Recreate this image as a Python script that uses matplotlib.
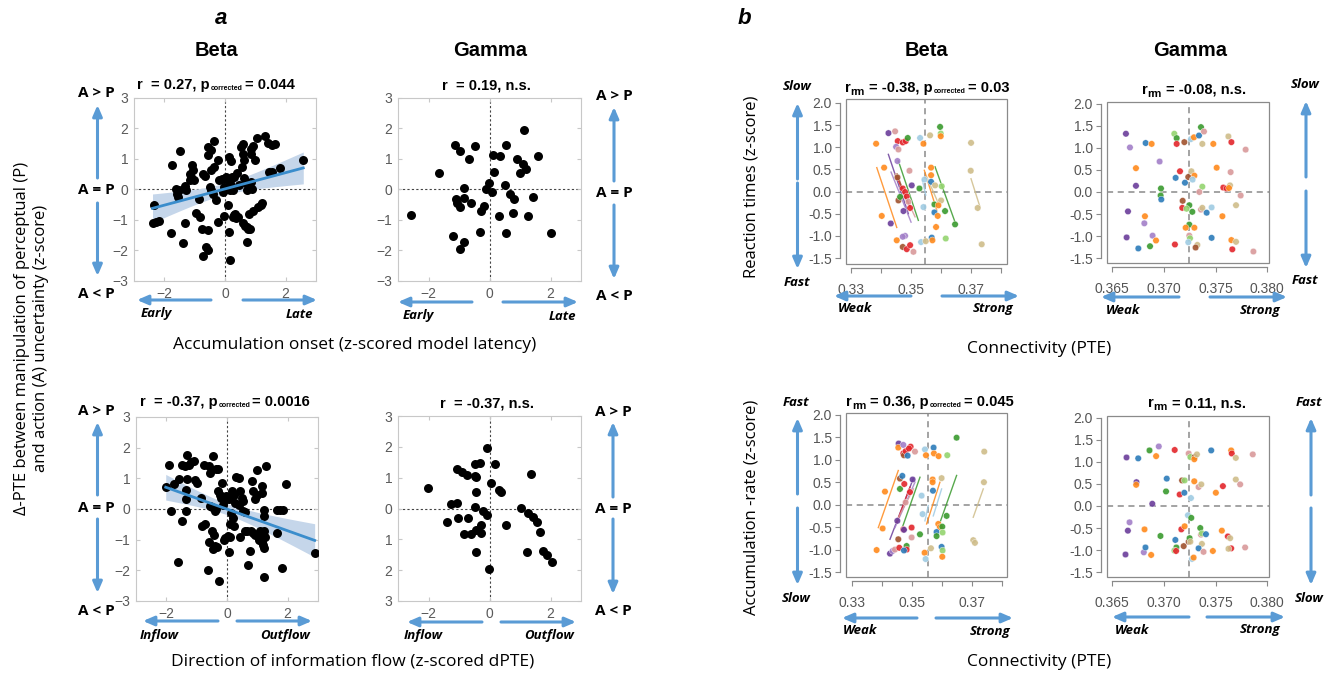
import numpy as np
import matplotlib
matplotlib.use('Agg')
import matplotlib.pyplot as plt
from matplotlib.patches import Rectangle, FancyArrowPatch

# ---- panel a : single subject-level points ----
onset_beta_x = [-2.34, -2.39, -2.26, -2.19, -1.75, -1.77, -1.61, -1.58, -1.52, -1.55, -1.48, -1.32, -1.28,
                -1.31, -1.38, -1.09, -1.06, -1.14, -1.11, -1.17, -1.03, -0.97, -0.84, -0.86, -0.75, -0.73,
                -0.62, -0.55, -0.73, -0.66, -0.55, -0.46, -0.55, -0.37, -0.51, -0.46, -0.55, -0.46, -0.35,
                -0.24, -0.38, -0.30, -0.24, -0.21, -0.11, -0.04, -0.08, -0.04, 0.03, 0.09, 0.14, 0.20, 0.23,
                0.17, 0.20, 0.16, 0.09, 0.09, 0.14, 0.16, 0.25, 0.31, 0.36, 0.34, 0.44, 0.25, 0.31, 0.38,
                0.47, 0.52, 0.60, 0.58, 0.61, 0.56, 0.63, 0.69, 0.74, 0.58, 0.67, 0.74, 0.77, 0.82, 0.71,
                0.85, 0.91, 1.00, 0.85, 0.85, 0.89, 0.80, 0.91, 1.10, 1.18, 1.21, 1.04, 1.32, 1.43, 1.56,
                1.65, 1.45, 1.54, 1.81, 2.58]
onset_beta_y = [-0.51, -1.09, -1.06, -1.04, 0.81, -1.42, 0.00, -0.15, -0.02, -0.24, 1.27, 0.11, -0.02,
                -1.11, -1.77, 0.80, 0.63, 0.52, 0.42, 0.31, 0.31, -0.77, -0.90, -0.30, -1.31, -2.19,
                -1.88, -1.99, 0.52, 0.44, 1.40, 1.29, 1.13, 1.58, 0.07, -0.02, -1.33, 0.63, 0.74,
                0.96, -0.15, -0.35, -1.06, 0.31, 0.36, 0.09, -0.08, -0.86, 0.42, 0.31, 1.05, 0.93, 0.42,
                0.20, 0.09, -0.02, 0.03, -0.51, -1.39, -2.32, -0.90, -0.84, -0.95, -0.81, -0.90, -0.02, 0.42, 0.55,
                0.16, 1.38, 1.49, 1.18, 0.98, 0.74, 0.38, 0.20, -0.02, -1.11, -1.20, -1.22, -1.31, -1.28, -1.72,
                1.34, 1.42, 0.98, 1.18, 0.25, 0.01, -0.79, -0.70, -0.57, -0.51, -0.44, 1.70, 1.75, 1.53, 1.45,
                1.48, 0.58, 0.58, 0.72, 0.98]

onset_gamma_x = [-2.58, -1.65, -1.12, -0.97, -0.66, -0.47, -0.82, -1.10, -1.08, -0.97, -0.82, -0.62, -1.21,
                 -0.82, -0.96, -0.31, -0.27, -0.18, -0.11, -0.01, 0.08, 0.15, 0.13, 0.35, 0.32, 0.54, 0.52,
                 0.54, 0.68, 0.79, 0.76, 0.91, 0.99, 1.09, 1.21, 1.14, 1.25, 1.43, 1.59, 2.02]
onset_gamma_y = [-0.84, 0.55, 1.45, 1.27, 1.01, 1.41, 0.05, -0.31, -0.45, -0.56, -0.28, -0.44, -1.51,
                 -1.73, -1.95, -1.40, -0.72, -0.53, 0.02, 0.21, -0.08, 0.59, 1.12, 1.09, -0.86, 1.45, 0.16,
                 -1.44, -0.14, -0.31, -0.78, 1.01, 0.54, 0.85, 0.66, 1.94, -0.86, -0.23, 1.11, -1.43]

flow_beta_x = [-2.02, -1.91, -1.74, -1.83, -1.58, -1.60, -1.50, -1.40, -1.33, -1.25, -1.18, -1.09, -1.33,
               -1.36, -1.34, -1.36, -1.47, -1.04, -0.98, -0.87, -0.76, -0.60, -0.46, -0.55, -0.35, -0.29,
               -0.82, -0.74, -0.60, -0.62, -0.57, -0.49, -0.41, -0.35, -0.49, -0.44, -0.38, -0.46, -0.33,
               -0.26, -0.29, -0.22, -0.19, -0.11, -0.16, -0.14, -0.11, -0.05, 0.03, 0.05, 0.11, -0.03, 0.05,
               0.16, 0.22, 0.27, 0.13, 0.20, 0.11, 0.22, 0.29, 0.38, 0.44, 0.49, 0.52, 0.41, 0.52, 0.60,
               0.44, 0.58, 0.65, 0.79, 0.85, 0.93, 1.04, 1.07, 1.15, 1.20, 1.23, 1.25, 1.22, 1.09, 0.69,
               0.76, 0.82, 0.85, 0.93, 0.98, 1.00, 1.15, 1.15, 1.22, 1.22, 1.28, 1.22, 1.64, 1.64, 1.74,
               1.83, 1.82, 1.96, 2.89]
flow_beta_y = [0.72, 1.43, 0.83, -0.05, 0.99, -1.74, 1.45, 1.40, 1.75, 1.43, 1.54, 1.58, 0.99,
               0.63, 0.33, -0.08, -0.40, 0.96, 0.85, 0.36, 1.45, 1.40, 1.73, 1.18, 1.32, 1.29,
               -0.57, -0.49, -1.06, -1.99, 0.09, 0.05, -0.08, 0.01, -0.73, -0.84, -1.22, -1.30, -1.25,
               -2.35, 0.60, 0.47, 0.36, 0.25, 0.85, 0.12, -1.01, -0.95, -0.87, -1.39, -0.90, 0.42, 0.31,
               0.58, 0.47, 0.20, -0.13, -0.30, -0.49, -0.57, 1.04, 1.02, 0.58, 0.36, 0.25, 0.14, -0.08, -0.10,
               -0.90, -0.73, -0.73, -0.73, -0.79, -0.84, -1.01, -0.90, -1.06, -1.17, -1.26, -0.90, -0.73, -0.73, -1.83,
               -1.36, 0.91, 0.58, 0.31, 0.47, 1.26, 0.74, 0.52, -0.02, -0.24, 1.41, -2.21, -0.79, -0.02, -0.02,
               -0.02, -1.93, 0.82, -1.44]

flow_gamma_x = [-2.03, -1.40, -1.27, -1.07, -1.07, -0.91, -0.74, -1.02, -0.72, -0.83, -0.61, -0.49, -0.31,
                -0.44, -0.49, -0.44, -0.49, -0.44, -0.27, -0.27, -0.45, -0.22, -0.07, -0.09, 0.05, 0.19,
                0.31, 0.37, -0.03, 0.55, 1.03, 1.26, 1.42, 1.55, 1.64, 1.37, 1.22, 1.77, 1.88, 2.04]
flow_gamma_y = [0.67, -0.43, 0.16, 0.19, 1.28, 1.17, 1.08, -0.30, -0.32, -0.84, -0.84, 1.43, 1.46,
                1.03, 1.05, 0.54, 0.05, -0.70, -0.81, -0.54, -1.41, -0.09, -0.22, 1.95, 0.84, 1.44,
                0.59, 0.54, -1.95, -0.54, 0.02, -0.14, -0.27, -0.43, -0.76, 1.11, -1.41, -1.37, -1.51, -1.73]
flow_gamma_yticklabels = ['3', '2', '1', '0', '1', '2', '3']

# ---- panel b : repeated-measures points, colour code per subject ----
PALETTE = {'P': '#6a3d9a', 'L': '#a27fc8', 'O': '#ff8a1c', 'R': '#e3262b', 'K': '#d9999a',
           'G': '#3a9a2e', 'g': '#94d46f', 'B': '#2b7bb9', 'b': '#9fcbe3', 'N': '#a0522d',
           'T': '#cfbd8a'}

rt_beta_c = 'OOOOPKRRRGLKLKPNRRGNGRKRbPPLLNRRKbbOTGgObOOBTgTGOBOGGOTBOgTTTT'
rt_beta_x = [0.33844, 0.34111, 0.34033, 0.34533, 0.34256, 0.34478, 0.34567, 0.34733, 0.34833, 0.34900,
             0.34511, 0.34589, 0.34556, 0.34956, 0.35033, 0.34556, 0.34733, 0.34811, 0.35289, 0.34589,
             0.34644, 0.34867, 0.34922, 0.34978, 0.35422, 0.34756, 0.34333, 0.34811, 0.34733, 0.34733,
             0.34867, 0.34978, 0.35089, 0.35344, 0.35311, 0.35422, 0.35644, 0.35978, 0.36000, 0.36000,
             0.35456, 0.35678, 0.35678, 0.35678, 0.35811, 0.36033, 0.36011, 0.35789, 0.35922, 0.35789,
             0.35900, 0.36144, 0.36478, 0.35844, 0.35500, 0.35700, 0.35722, 0.36167, 0.37011, 0.37000,
             0.37233, 0.37367]
rt_beta_y = [1.08, 0.54, -0.55, -1.10, 1.32, 1.36, 1.14, 1.11, 1.14, 1.21,
             1.01, 0.95, 0.69, 0.47, 0.14, 0.32, 0.07, -0.01, 0.07, -0.20,
             -0.12, -0.11, -0.23, -0.37, -0.35, -0.44, -0.72, -1.00, -1.02, -1.25,
             -1.30, -1.21, -1.36, -1.14, 1.21, 1.08, 1.27, 1.46, 1.31, 1.25,
             0.27, 0.54, 0.37, 0.22, 0.14, 0.12, -0.20, -0.29, -0.31, -0.47,
             -0.55, -0.44, -0.74, -0.80, -1.12, -1.04, -1.10, -1.06, 1.10, 0.47,
             -0.37, -1.19]
# repeated-measures fit lines (per subject)
rt_line_c = 'OPLGKRNbOTGT'
rt_line_x0 = [0.33867, 0.34253, 0.34343, 0.34587, 0.34477, 0.34533, 0.34543, 0.35387, 0.35453, 0.35533, 0.35810, 0.37010]
rt_line_x1 = [0.34533, 0.34920, 0.35010, 0.35253, 0.35143, 0.34977, 0.34877, 0.35500, 0.35867, 0.35977, 0.36477, 0.37310]
rt_line_y0 = [0.54, 0.84, 0.44, 0.69, 0.40, 0.33, 0.40, 0.26, 0.48, 0.33, 0.56, 0.29]
rt_line_y1 = [-0.81, -0.50, -0.69, -0.65, -0.57, -0.35, -0.23, -0.08, -0.42, -0.35, -0.69, -0.35]

rt_gamma_c = 'PBOLLOPGGBPOLPLOBGgGRNbOBGKTOTRKRBBNTObgKOKRRTOKNRGgGKTBbTOGOOBKgbTNROTRK'
rt_gamma_x = [0.36632, 0.36823, 0.36881, 0.36671, 0.36958, 0.36729, 0.36729, 0.36971, 0.36968, 0.36974,
              0.36652, 0.36816, 0.36810, 0.36639, 0.36890, 0.36923, 0.36752, 0.36865, 0.37100, 0.37123,
              0.37123, 0.37197, 0.37261, 0.37290, 0.37339, 0.37358, 0.37387, 0.37371, 0.37477, 0.37623,
              0.37652, 0.37790, 0.37155, 0.37113, 0.37203, 0.37235, 0.37265, 0.37294, 0.37277, 0.37371,
              0.37342, 0.37510, 0.37645, 0.37574, 0.37606, 0.37639, 0.37629, 0.37742, 0.37181, 0.37177,
              0.37245, 0.37219, 0.37274, 0.37358, 0.37371, 0.37413, 0.37461, 0.37697, 0.37565, 0.37245,
              0.37210, 0.37294, 0.37461, 0.37245, 0.37252, 0.37235, 0.37323, 0.37306, 0.37106, 0.37652,
              0.37697, 0.37661, 0.37865]
rt_gamma_y = [1.32, 1.11, 1.09, 1.01, 0.69, 0.54, 0.14, 0.08, -0.08, -0.17,
              -0.44, -0.55, -0.71, -1.03, -0.99, -1.10, -1.28, -1.23, 1.32, 1.22,
              1.09, 1.13, 1.20, 1.24, 1.28, 1.47, 1.37, 1.09, 1.09, 1.26,
              1.13, 0.96, 0.47, 0.32, 0.21, 0.34, 0.47, 0.37, 0.28, 0.12,
              0.00, 0.55, 0.45, 0.10, 0.08, 0.15, 0.09, -0.08, -0.20, -0.36,
              -0.30, -0.38, -0.45, -0.40, -0.36, -0.47, -0.35, -0.30, -0.55, -0.74,
              -0.81, -0.81, -1.04, -0.99, -1.05, -1.14, -1.20, -1.26, -1.19, -1.09,
              -1.13, -1.30, -1.35]

acc_beta_c = 'OOOPLKPORNRRRKBPNBGRRKPRPKRGNGRRBbbbOObTBOOgGOOBTGOOGBGgBgOTTTTL'
acc_beta_x = [0.33822, 0.34100, 0.34022, 0.34267, 0.34356, 0.34433, 0.34556, 0.34544, 0.34711, 0.34733,
              0.34789, 0.34956, 0.34900, 0.35100, 0.34856, 0.35022, 0.34600, 0.34678, 0.34600, 0.34744,
              0.34933, 0.34789, 0.34511, 0.34711, 0.34733, 0.34989, 0.34989, 0.35267, 0.34544, 0.34822,
              0.34578, 0.34822, 0.34733, 0.35322, 0.35356, 0.35433, 0.35467, 0.35422, 0.35456, 0.35633,
              0.35722, 0.35733, 0.35889, 0.36178, 0.36489, 0.35689, 0.35689, 0.35700, 0.35989, 0.36156,
              0.35878, 0.35933, 0.36011, 0.35822, 0.35822, 0.36022, 0.35989, 0.36022, 0.36011, 0.37400,
              0.37411, 0.37044, 0.37100, 0.34711]
acc_beta_y = [-1.01, 0.29, -0.53, -1.09, -1.03, -1.00, 1.36, 1.27, 1.14, 1.10,
              1.19, 1.29, 1.25, 1.18, 1.09, 0.56, 0.58, 0.64, 0.35, 0.46,
              0.28, 0.05, -0.36, -0.55, -0.56, -0.73, -0.51, -0.66, -0.77, -0.92,
              -0.96, -1.00, -1.02, 0.20, -0.21, 1.23, 1.10, -1.07, -1.21, -0.97,
              1.27, 1.14, 1.08, 1.10, 1.49, 0.56, 0.50, 0.31, 0.59, -0.25,
              -0.43, -0.50, -0.49, -0.61, -0.70, -0.62, -0.94, -1.02, -1.16, 0.50,
              1.18, -0.79, -0.85, 1.33]
acc_line_c = 'OPLGRKbObGT'
acc_line_x0 = [0.33878, 0.34267, 0.34433, 0.34656, 0.34489, 0.34500, 0.35433, 0.35489, 0.35711, 0.35933, 0.37044]
acc_line_x1 = [0.34544, 0.35044, 0.35100, 0.35267, 0.34933, 0.35050, 0.35544, 0.35933, 0.35989, 0.36489, 0.37378]
acc_line_y0 = [-0.51, -0.77, -0.51, -0.55, -0.40, -0.35, -0.36, -0.43, -0.25, -0.40, -0.28]
acc_line_y1 = [0.76, 0.58, 0.50, 0.61, 0.39, 0.35, -0.02, 0.50, 0.35, 0.65, 0.35]

acc_gamma_c = 'PBGLORKgNOTBORTKPOBGPRBNgbOKTORTKLPOGbGROBGgRNNGTPLBObOKGgBTBKOORTRTK'
acc_gamma_x = [0.36638, 0.36751, 0.36860, 0.36950, 0.36924, 0.37104, 0.37239, 0.37255, 0.37297, 0.37293,
               0.37319, 0.37457, 0.37650, 0.37656, 0.37695, 0.37859, 0.36734, 0.36731, 0.37027, 0.37020,
               0.36887, 0.37152, 0.37197, 0.37175, 0.37200, 0.37261, 0.37293, 0.37335, 0.37361, 0.37502,
               0.37570, 0.37695, 0.37737, 0.36667, 0.36651, 0.36812, 0.36966, 0.37232, 0.37264, 0.37168,
               0.37200, 0.37110, 0.37120, 0.37101, 0.37117, 0.37191, 0.37239, 0.37248, 0.37255, 0.36628,
               0.36805, 0.36821, 0.36876, 0.37271, 0.37287, 0.37358, 0.37351, 0.37367, 0.37406, 0.37367,
               0.37335, 0.37383, 0.37473, 0.37560, 0.37618, 0.37640, 0.37650, 0.37624, 0.37785]
acc_gamma_y = [1.10, 1.08, 1.26, 1.35, 1.13, 1.27, 1.19, 1.11, 1.11, 1.06,
               1.17, 1.26, 1.26, 1.19, 1.09, 1.17, 0.54, 0.48, 0.62, 0.33,
               0.05, 0.26, 0.30, 0.58, 0.58, 0.18, 0.56, 0.43, 0.49, 0.30,
               0.45, 0.60, 0.49, -0.37, -0.56, -0.53, -0.68, -0.21, -0.27, -0.53,
               -0.46, -0.77, -0.94, -1.01, -1.02, -0.91, -0.81, -0.73, -0.81, -1.10,
               -1.05, -0.94, -1.11, -1.20, -1.17, -0.65, -0.50, -0.62, -0.64, -0.86,
               -0.96, -1.04, -1.02, -0.56, -0.69, -0.73, -0.96, -0.97, -0.94]

beta_xticks = [0.33, 0.34, 0.35, 0.36, 0.37, 0.38]
beta_xticklabels = ['0.33', '', '0.35', '', '0.37', '']
gamma_xticks = [0.365, 0.370, 0.375, 0.380]
b_yticks = [-1.5, -1.0, -0.5, 0.0, 0.5, 1.0, 1.5, 2.0]

# ---------------------------------------------------------------
W, H = 1326, 677
BLUE = '#5a9bd5'
HEAD = 'Open Sans'
ARIAL = 'Liberation Sans'
fig = plt.figure(figsize=(W / 100, H / 100), dpi=100)


def fx(px):
    return px / W


def fy(py):
    return 1 - py / H


def rect(l, t, r, b):
    return [fx(l), fy(b), (r - l) / W, (b - t) / H]


def ftext(px, py, s, size=12, weight='normal', style='normal', family=HEAD, **kw):
    kw.setdefault('ha', 'center')
    kw.setdefault('va', 'center')
    return fig.text(fx(px), fy(py), s, fontsize=size, fontweight=weight,
                    fontstyle=style, family=family, **kw)


def arrow(x0, y0, x1, y1):
    fig.add_artist(FancyArrowPatch((fx(x0), fy(y0)), (fx(x1), fy(y1)),
                                   transform=fig.transFigure, color=BLUE, lw=2.2,
                                   arrowstyle='-|>,head_length=0.65,head_width=0.28',
                                   mutation_scale=10, shrinkA=0, shrinkB=0))


def rich_title(cx, base, parts):
    # parts: (text, fontsize, baseline shift px, gap after px)
    r = fig.canvas.get_renderer()
    arts = []
    for s, fs, dy, gap in parts:
        t = fig.text(0, 0, s, fontsize=fs, fontweight='bold', family=ARIAL,
                     ha='left', va='baseline')
        arts.append((t, dy, gap, t.get_window_extent(r).width))
    total = sum(w + g for _, _, g, w in arts)
    x = cx - total / 2
    for t, dy, gap, w in arts:
        t.set_position((fx(x), fy(base + dy)))
        x += w + gap


def a_panel(box, x, y, fit=False, ylabels=None):
    ax = fig.add_axes(rect(*box))
    ax.axhline(0, color='#444444', ls=(0, (2, 2)), lw=0.8, zorder=1)
    ax.axvline(0, color='#444444', ls=(0, (2, 2)), lw=0.8, zorder=1)
    if fit:
        x_ = np.asarray(x)
        y_ = np.asarray(y)
        b1, b0 = np.polyfit(x_, y_, 1)
        xs = np.linspace(x_.min(), x_.max(), 100)
        n = len(x_)
        res = y_ - (b0 + b1 * x_)
        s = np.sqrt(np.sum(res ** 2) / (n - 2))
        se = s * np.sqrt(1 / n + (xs - x_.mean()) ** 2 / np.sum((x_ - x_.mean()) ** 2))
        yh = b0 + b1 * xs
        ax.fill_between(xs, yh - 1.984 * se, yh + 1.984 * se, color='#c5d6ea', lw=0, zorder=2)
        ax.plot(xs, yh, color='#3a8dcc', lw=2, zorder=4)
    ax.scatter(x, y, s=42, c='black', lw=0, zorder=3)
    ax.set_xlim(-3, 3)
    ax.set_ylim(-3, 3)
    ax.set_xticks([-2, 0, 2])
    ax.set_yticks(range(-3, 4))
    if ylabels is not None:
        ax.set_yticklabels(ylabels)
    for sp in ax.spines.values():
        sp.set_color('#c8c8c8')
    ax.tick_params(direction='in', length=3, color='#c8c8c8', labelcolor='#5a5a5a',
                   labelsize=10, top=True, right=True, pad=4)
    for lab in ax.get_xticklabels() + ax.get_yticklabels():
        lab.set_family(ARIAL)
    return ax


def b_panel(box, xs, ys, cs, xlim, ylim, xticks, xlabels=None,
            vline=0.0, lines=None):
    ax = fig.add_axes(rect(*box))
    ax.set_xlim(xlim)
    ax.set_ylim(ylim)
    ax.add_patch(Rectangle((0, 0), 1, 1, transform=ax.transAxes, fill=False,
                           ec='#8a8a8a', lw=0.9, clip_on=False, zorder=6))
    ax.spines['top'].set_visible(False)
    ax.spines['right'].set_visible(False)
    ax.spines['left'].set_position(('outward', 4.5))
    ax.spines['bottom'].set_position(('outward', 3))
    ax.spines['left'].set_bounds(b_yticks[0], b_yticks[-1])
    ax.spines['bottom'].set_bounds(xticks[0], xticks[-1])
    for k in ('left', 'bottom'):
        ax.spines[k].set_color('#8a8a8a')
        ax.spines[k].set_linewidth(0.9)
    ax.axhline(0, color='#8a8a8a', ls=(0, (4, 3)), lw=1.1, zorder=1)
    ax.axvline(vline, color='#8a8a8a', ls=(0, (4, 3)), lw=1.1, zorder=1)
    if lines is not None:
        lc, lx0, lx1, ly0, ly1 = lines
        for c, a, b, c0, c1 in zip(lc, lx0, lx1, ly0, ly1):
            ax.plot([a, b], [c0, c1], color=PALETTE[c], lw=1.0, alpha=0.85, zorder=2)
    ax.scatter(xs, ys, s=22, c=[PALETTE[c] for c in cs], alpha=0.9,
               edgecolors='white', linewidths=0.3, zorder=3)
    ax.set_xticks(xticks)
    if xlabels is not None:
        ax.set_xticklabels(xlabels)
    else:
        ax.set_xticklabels(['%.3f' % t for t in xticks])
    ax.set_yticks(b_yticks)
    ax.set_yticklabels(['%.1f' % t for t in b_yticks])
    ax.tick_params(direction='out', length=3.5, color='#8a8a8a', labelcolor='#555555',
                   labelsize=10, pad=2)
    ax.tick_params(axis='x', pad=7)
    for lab in ax.get_xticklabels() + ax.get_yticklabels():
        lab.set_family(ARIAL)
    return ax


# ---- panel a ----
a_panel((134, 98, 316, 281), onset_beta_x, onset_beta_y, fit=True)
a_panel((398, 98, 581, 281), onset_gamma_x, onset_gamma_y)
a_panel((136, 417, 318, 601), flow_beta_x, flow_beta_y, fit=True)
a_panel((398, 416, 581, 601), flow_gamma_x, flow_gamma_y, ylabels=flow_gamma_yticklabels)

# ---- panel b ----
b_panel((846, 99, 1007, 264), rt_beta_x, rt_beta_y, rt_beta_c, (0.3284, 0.3821), (-1.635, 2.09),
        beta_xticks, beta_xticklabels, vline=0.3549,
        lines=(rt_line_c, rt_line_x0, rt_line_x1, rt_line_y0, rt_line_y1))
b_panel((1107, 102, 1269, 263), rt_gamma_x, rt_gamma_y, rt_gamma_c, (0.36449, 0.38016), (-1.61, 2.04),
        gamma_xticks, vline=0.3724)
b_panel((846, 413, 1007, 577), acc_beta_x, acc_beta_y, acc_beta_c, (0.3280, 0.3817), (-1.61, 2.04),
        beta_xticks, beta_xticklabels, vline=0.3552,
        lines=(acc_line_c, acc_line_x0, acc_line_x1, acc_line_y0, acc_line_y1))
b_panel((1107, 416, 1269, 577), acc_gamma_x, acc_gamma_y, acc_gamma_c, (0.36449, 0.38016), (-1.61, 2.04),
        gamma_xticks, vline=0.3724)

# ---- headers ----
ftext(221, 18, 'a', size=16, weight='bold', style='italic', family=ARIAL)
ftext(744, 18, 'b', size=16, weight='bold', style='italic', family=ARIAL)
for cx, s in [(216, 'Beta'), (490, 'Gamma'), (926, 'Beta'), (1190, 'Gamma')]:
    ftext(cx, 50, s, size=14.5, weight='bold', family=ARIAL)

# ---- panel titles ----
TS, SS = 10.5, 5
rich_title(216, 89, [('r  = 0.27, p', TS, 0, 1), ('corrected', SS, 1, 2), ('= 0.044', TS, 0, 0)])
rich_title(486, 89, [('r  = 0.19, n.s.', TS, 0, 0)])
rich_title(225, 406, [('r  = -0.37, p', TS, 0, 1), ('corrected', SS, 1, 2), ('= 0.0016', TS, 0, 0)])
rich_title(487, 407, [('r  = -0.37, n.s.', TS, 0, 0)])
rich_title(927, 92, [('r', TS, 0, 0), ('rm', 8, 3, 4), ('= -0.38, p', TS, 0, 1),
                     ('corrected', SS, 1, 2), ('= 0.03', TS, 0, 0)])
rich_title(1194, 94, [('r', TS, 0, 0), ('rm', 8, 3, 4), ('= -0.08, n.s.', TS, 0, 0)])
rich_title(930, 406, [('r', TS, 0, 0), ('rm', 8, 3, 4), ('= 0.36, p', TS, 0, 1),
                      ('corrected', SS, 1, 2), ('= 0.045', TS, 0, 0)])
rich_title(1197, 407, [('r', TS, 0, 0), ('rm', 8, 3, 4), ('= 0.11, n.s.', TS, 0, 0)])

# ---- axis labels ----
ftext(32, 338, 'Δ-PTE between manipulation of perceptual (P)\nand action (A) uncertainty (z-score)',
      size=12, rotation=90, linespacing=1.25)
ftext(355, 345, 'Accumulation onset (z-scored model latency)', size=12.5)
ftext(353, 661, 'Direction of information flow (z-scored dPTE)', size=12.5)
ftext(1039, 349, 'Connectivity (PTE)', size=12.5)
ftext(1039, 662, 'Connectivity (PTE)', size=12.5)
ftext(752, 187, 'Reaction times (z-score)', size=12, rotation=90)
ftext(752, 507, 'Accumulation -rate (z-score)', size=12, rotation=90)

# ---- A vs P annotations and arrows (panel a) ----
for xt, xa, y_top, y_mid, y_bot, ay in [(96, 97.5, 93, 190, 294, (178, 105, 203, 276)),
                                        (614, 614, 96, 193, 296, (181, 107, 205, 279)),
                                        (96, 97.5, 411, 508, 611, (495, 422, 519, 593)),
                                        (613, 613, 412, 509, 611, (497, 422, 519, 594))]:
    ftext(xt, y_top, 'A > P', size=11, weight='bold')
    ftext(xt, y_mid, 'A = P', size=11, weight='bold')
    ftext(xt, y_bot, 'A < P', size=11, weight='bold')
    arrow(xa, ay[0], xa, ay[1])
    arrow(xa, ay[2], xa, ay[3])

for y, l0, l1, r0, r1, lt, rt, lx, rx in [
        (300, 211, 137, 243, 317, 'Early', 'Late', 156, 299),
        (302, 472, 398, 503, 578, 'Early', 'Late', 418, 562),
        (621, 218, 143, 237, 312, 'Inflow', 'Outflow', 159, 285),
        (622, 482, 407, 501, 576, 'Inflow', 'Outflow', 423, 549)]:
    arrow(l0, y, l1, y)
    arrow(r0, y, r1, y)
    ftext(lx, y + 14, lt, size=9.5, weight='bold', style='italic')
    ftext(rx, y + 14, rt, size=9.5, weight='bold', style='italic')

# ---- panel b arrows ----
for xa, xt, top_t, bot_t, yt, yb, ay in [
        (797.5, 797, 'Slow', 'Fast', 87, 282, (179, 103, 183, 269)),
        (1306, 1305, 'Slow', 'Fast', 85, 281, (177, 101, 191, 268)),
        (797.5, 796, 'Fast', 'Slow', 402, 598, (494, 418, 508, 585)),
        (1311, 1309, 'Fast', 'Slow', 403, 598, (495, 418, 508, 585))]:
    ftext(xt, yt, top_t, size=9.5, weight='bold', style='italic')
    ftext(xt, yb, bot_t, size=9.5, weight='bold', style='italic')
    arrow(xa, ay[0], xa, ay[1])
    arrow(xa, ay[2], xa, ay[3])

for y, l0, l1, r0, r1, lx, rx in [(296, 911, 834, 942, 1019, 855, 993),
                                  (297, 1179, 1101, 1210, 1287, 1123, 1260),
                                  (618, 917, 842, 936, 1013, 860, 990),
                                  (617, 1189, 1112, 1207, 1285, 1132, 1260)]:
    arrow(l0, y, l1, y)
    arrow(r0, y, r1, y)
    ftext(lx, y + 13, 'Weak', size=9.5, weight='bold', style='italic')
    ftext(rx, y + 13, 'Strong', size=9.5, weight='bold', style='italic')

fig.savefig('out.png', dpi=100)
